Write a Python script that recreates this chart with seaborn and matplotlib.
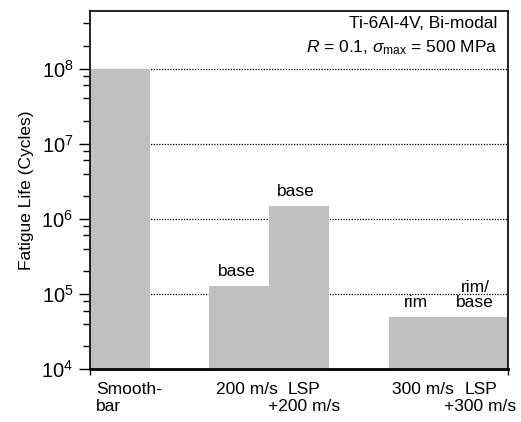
import matplotlib
matplotlib.use("Agg")
import matplotlib.pyplot as plt
import seaborn as sns
import numpy as np
from matplotlib.ticker import LogLocator, NullFormatter

# ---- data ----
categories = ["Smooth-bar", "200 m/s", "LSP +200 m/s", "300 m/s", "LSP +300 m/s"]
fatigue_life = [1.0e8, 1.27e5, 1.5e6, 5.0e4, 5.0e4]
failure_site = ["", "base", "base", "rim", "rim/\nbase"]
tick_line1 = ["Smooth-", "200 m/s", "LSP", "300 m/s", "LSP"]
tick_line2 = ["bar", "", "+200 m/s", "", "+300 m/s"]
title_line1 = "Ti-6Al-4V, Bi-modal"
title_line2 = r"$\mathit{R}$ = 0.1, $\sigma_{\mathrm{max}}$ = 500 MPa"
y_label = "Fatigue Life (Cycles)"

# ---- layout ----
bar_pos = [0.5, 2.5, 3.5, 5.5, 6.5]
label_x = [0.1, 2.62, 3.58, 5.57, 6.54]
label_ha = ["left", "center", "center", "center", "center"]

sns.set_theme(style="white")
plt.rcParams["font.family"] = ["Liberation Sans", "DejaVu Sans"]
plt.rcParams["mathtext.fontset"] = "custom"
plt.rcParams["mathtext.rm"] = "Liberation Sans"
plt.rcParams["mathtext.it"] = "Liberation Sans:italic"
plt.rcParams["mathtext.bf"] = "Liberation Sans:bold"
for k in ["text.color", "axes.labelcolor", "xtick.color", "ytick.color", "axes.edgecolor"]:
    plt.rcParams[k] = "black"

fig = plt.figure(figsize=(5.21, 4.22), dpi=100)
ax = fig.add_axes([90 / 521, 1 - 369 / 422, 418 / 521, (369 - 10.7) / 422])

sns.barplot(x=bar_pos, y=fatigue_life, native_scale=True, width=1.0,
            color="#c0c0c0", saturation=1, edgecolor="none", linewidth=0,
            log_scale=(False, True), errorbar=None, ax=ax, zorder=2)

ax.set_yscale("log")
ax.set_ylim(1e4, 5.9e8)
ax.set_xlim(0, 7)

# grid
ax.set_axisbelow(True)
ax.yaxis.grid(True, which="major", linestyle=(0, (1, 1.2)), color="black", linewidth=0.9)
ax.xaxis.grid(False)

# y ticks
ax.yaxis.set_major_locator(LogLocator(base=10, numticks=10))
ax.yaxis.set_minor_locator(LogLocator(base=10, subs=[2, 4, 6, 8], numticks=20))
ax.yaxis.set_minor_formatter(NullFormatter())
ax.tick_params(axis="y", which="major", direction="out", length=8, width=1,
               color="black", labelcolor="black", labelsize=14.5, pad=4, left=True)
ax.tick_params(axis="y", which="minor", direction="out", length=5, width=1,
               color="black", left=True)
ax.set_yticks([1e4, 1e5, 1e6, 1e7, 1e8])

# x ticks: only small marks at the ends
ax.set_xticks([0, 7])
ax.set_xticklabels(["", ""])
ax.tick_params(axis="x", which="major", direction="out", length=4, width=1,
               color="black", bottom=True)

for side in ["left", "right", "top"]:
    ax.spines[side].set_color("black")
    ax.spines[side].set_linewidth(1.2)
ax.spines["bottom"].set_color("black")
ax.spines["bottom"].set_linewidth(2.0)

ax.set_ylabel(y_label, fontsize=12.5, labelpad=5, color="black")
ax.set_xlabel("")

# category labels under axis
trans = ax.get_xaxis_transform()
for x, t1, t2, ha in zip(label_x, tick_line1, tick_line2, label_ha):
    ax.text(x, -0.036, t1, transform=trans, ha=ha, va="top", fontsize=12.5, color="black")
    if t2:
        ax.text(x, -0.083, t2, transform=trans, ha=ha, va="top", fontsize=12.5, color="black")

# failure-site annotations
for x, v, lab in zip(bar_pos, fatigue_life, failure_site):
    if lab:
        ax.annotate(lab, xy=(x - 0.05, v), xytext=(0, 5), textcoords="offset points",
                    ha="center", va="bottom", fontsize=12.5, linespacing=1.0, color="black")

# title block
ax.text(0.9737, 0.963, title_line1, transform=ax.transAxes, ha="right", va="center",
        fontsize=12.5, color="black")
ax.text(0.9737, 0.897, title_line2, transform=ax.transAxes, ha="right", va="center",
        fontsize=12.5, color="black")

fig.savefig("out.png", dpi=100)
